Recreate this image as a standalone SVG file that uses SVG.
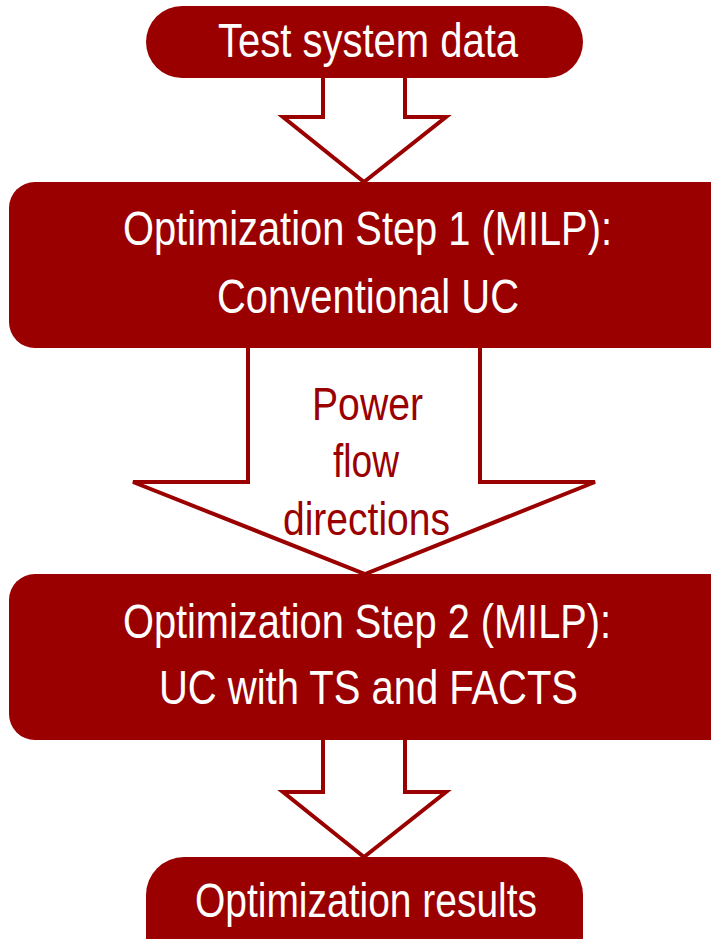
<svg xmlns="http://www.w3.org/2000/svg" width="711" height="939" viewBox="0 0 711 939">
<style>
.node{fill:#9A0000}
.arrow{fill:#fff;stroke:#9A0000;stroke-width:4;stroke-linejoin:miter}
.t{font-family:"Liberation Sans",Arial,sans-serif;fill:#fff;font-size:48px}
.lbl{font-family:"Liberation Sans",Arial,sans-serif;fill:#9A0000;font-size:46px}
</style>
<rect width="711" height="939" fill="#fff"/>
<g id="connectors">
<polygon class="arrow" points="323,74 323,117 283,117 364,182 446,117 405,117 405,74"/>
<polygon class="arrow" points="248,344 248,482 133,482 365,574 595,482 480,482 480,344"/>
<polygon class="arrow" points="323,736 323,792 283,792 364,857 446,792 405,792 405,736"/>
<g id="label-power">
<text class="lbl" x="312" y="420" textLength="111" lengthAdjust="spacingAndGlyphs">Power</text>
<text class="lbl" x="333" y="477" textLength="66" lengthAdjust="spacingAndGlyphs">flow</text>
<text class="lbl" x="283" y="535" textLength="167" lengthAdjust="spacingAndGlyphs">directions</text>
</g>
</g>
<g id="node-test">
<rect class="node" x="146" y="6" width="437" height="72" rx="36"/>
<text class="t" x="218" y="57" font-size="49" textLength="300" lengthAdjust="spacingAndGlyphs">Test system data</text>
</g>
<g id="node-step1">
<rect class="node" x="9" y="182" width="740" height="166" rx="26"/>
<text class="t" x="123" y="245" textLength="489" lengthAdjust="spacingAndGlyphs">Optimization Step 1 (MILP):</text>
<text class="t" x="217" y="313" textLength="302" lengthAdjust="spacingAndGlyphs">Conventional UC</text>
</g>
<g id="node-step2">
<rect class="node" x="9" y="574" width="740" height="166" rx="26"/>
<text class="t" x="123" y="638" textLength="488" lengthAdjust="spacingAndGlyphs">Optimization Step 2 (MILP):</text>
<text class="t" x="159" y="704" textLength="419" lengthAdjust="spacingAndGlyphs">UC with TS and FACTS</text>
</g>
<g id="node-results">
<rect class="node" x="146" y="857" width="437" height="120" rx="38"/>
<text class="t" x="195" y="917" textLength="342" lengthAdjust="spacingAndGlyphs">Optimization results</text>
</g>
</svg>
